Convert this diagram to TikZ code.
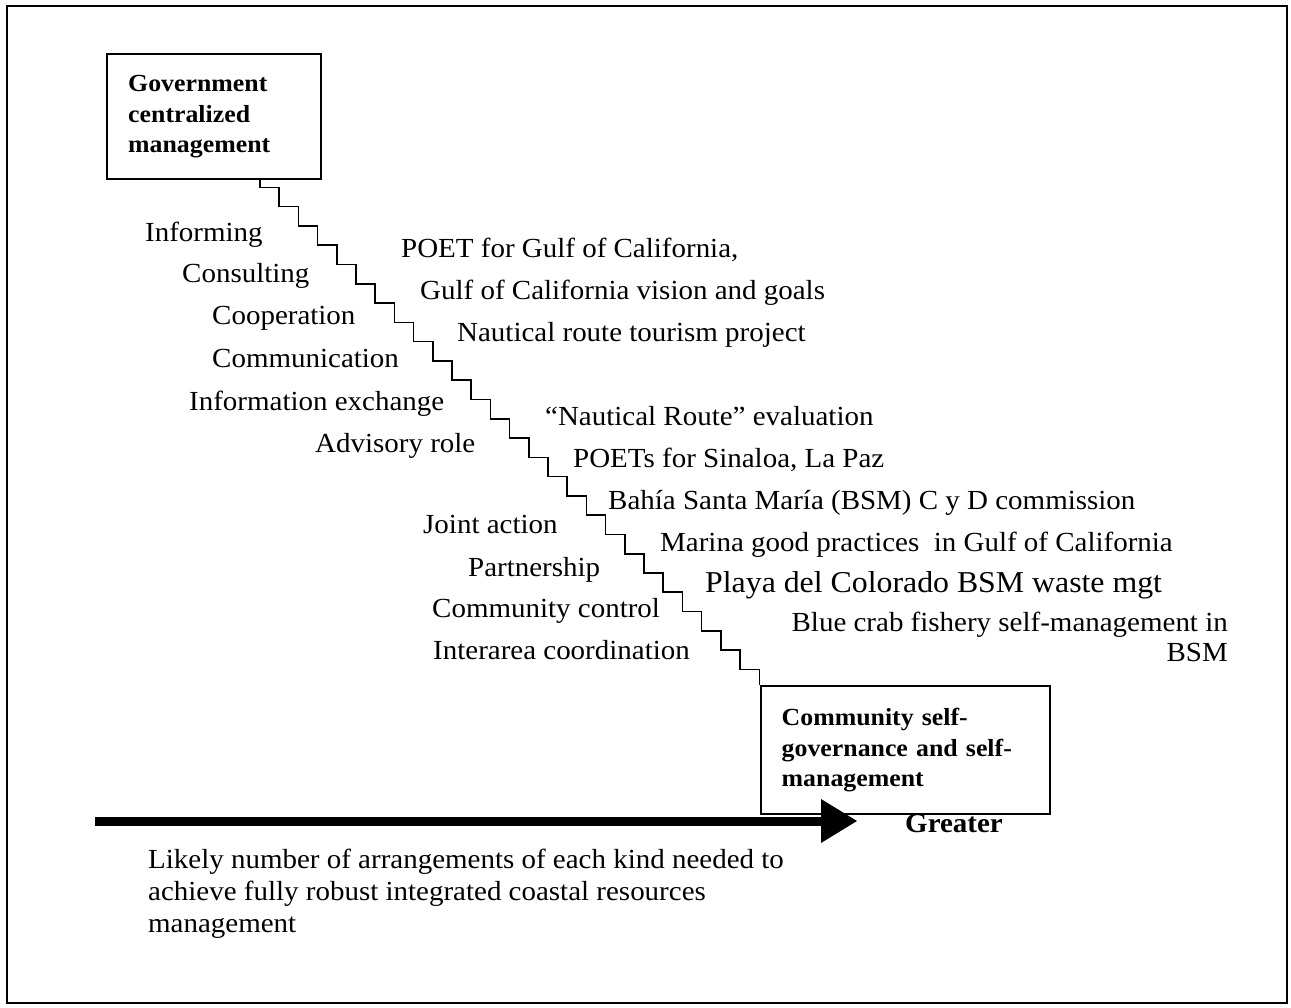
\documentclass[tikz,border=0pt]{standalone}
\usepackage{fontspec}
\setmainfont{Liberation Serif}[FakeStretch=1.05]
\begin{document}
\begin{tikzpicture}[x=1pt,y=-1pt,
  lbl/.style={anchor=base west, inner sep=0pt, font=\fontsize{27.6}{32}\selectfont},
  endbox/.style={draw, line width=2.4pt, anchor=north west, align=left,
    inner xsep=21pt, inner ysep=0pt, font=\bfseries\fontsize{24.6}{30.5}\selectfont},
  stair/.style={line width=1.6pt},
]
\useasboundingbox (0,0) rectangle (1291,1008);
% outer frame
\draw[line width=1.5pt] (7,6) rectangle (1287,1003);

% the two ends of the scale
\node[endbox, minimum width=214pt, minimum height=125pt, text width=172pt] (gov) at (106,53)
  {Government\\centralized\\management};
\node[endbox, minimum width=289pt, minimum height=128pt, text width=247pt] (comm) at (759.5,685)
  {Community self-\\governance and self-\\management};

% staircase from one end to the other
\draw[stair] ([xshift=154pt]gov.south west) -- ++(0,7)
  foreach \i in {1,...,25} { -- ++(19.2,0) -- ++(0,19.28) }
  -| (comm.north west);

% kinds of arrangement (left of the stairs)
\node[lbl] (l1) at (145,242) {Informing};
\node[lbl] (l2) at (182,283) {Consulting};
\node[lbl] (l3) at (212,325) {Cooperation};
\node[lbl] (l4) at (212,367) {Communication};
\node[lbl] (l5) at (189,410) {Information exchange};
\node[lbl] (l6) at (315,452) {Advisory role};
\node[lbl] (l7) at (423,533) {Joint action};
\node[lbl] (l8) at (468,576) {Partnership};
\node[lbl] (l9) at (432,617) {Community control};
\node[lbl] (l10) at (433,659) {Interarea coordination};

% examples (right of the stairs)
\node[lbl] (r1) at (401,258) {POET for Gulf of California,};
\node[lbl] (r2) at (420,300) {Gulf of California vision and goals};
\node[lbl] (r3) at (457,342) {Nautical route tourism project};
\node[lbl] (r4) at (545,425) {“Nautical Route” evaluation};
\node[lbl] (r5) at (573,467) {POETs for Sinaloa, La Paz};
\node[lbl] (r6) at (608,509) {Bahía Santa María (BSM) C y D commission};
\node[lbl] (r7) at (660,551) {Marina good practices\ \ in Gulf of California};
\node[lbl, font=\fontsize{30.3}{34}\selectfont] (r8) at (705,592) {Playa del Colorado BSM waste mgt};
% base anchor of this two-line node sits on its last line
\node[lbl, anchor=base east, align=right, font=\fontsize{27.6}{30}\selectfont] (r9) at (1228,661)
  {Blue crab fishery self-management in\\BSM};

% axis arrow
\coordinate (ax0) at (95,821);
\coordinate (ax1) at (857,821);
\draw[line width=9pt] (ax0) -- ([xshift=-34pt]ax1);
\fill (ax1) -- ++(-36,-22) -- ++(0,44) -- cycle;
\node[lbl, font=\bfseries\fontsize{27.6}{32}\selectfont] (greater) at (905,832) {Greater};
\node[anchor=north west, inner sep=0pt, align=left, font=\fontsize{27.6}{32}\selectfont] (caption) at (148,849)
  {Likely number of arrangements of each kind needed to\\achieve fully robust integrated coastal resources\\management};
\end{tikzpicture}
\end{document}
